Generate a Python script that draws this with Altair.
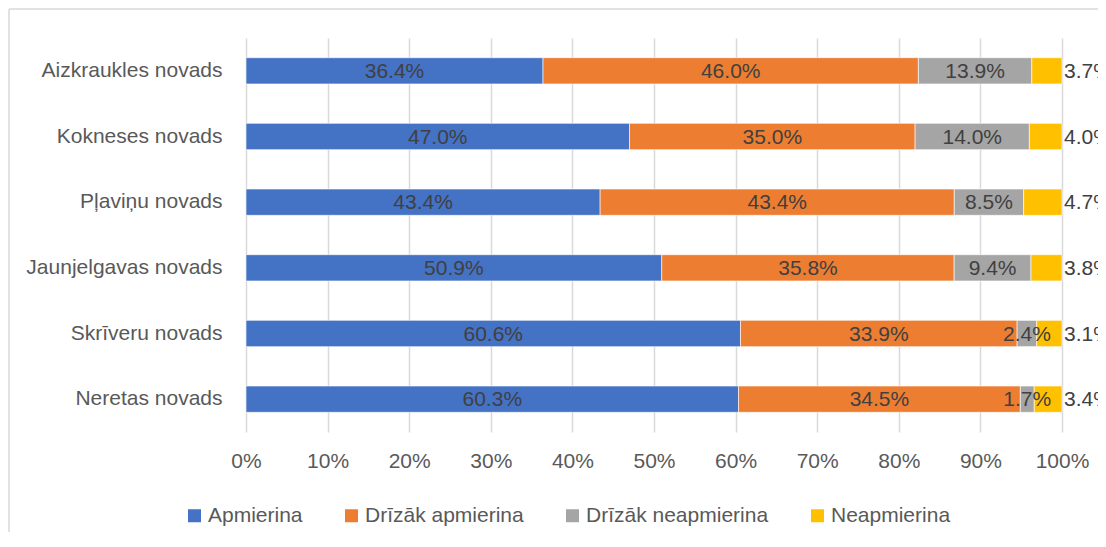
import altair as alt
import pandas as pd

categories = ["Aizkraukles novads", "Kokneses novads", "Pļaviņu novads",
              "Jaunjelgavas novads", "Skrīveru novads", "Neretas novads"]
series = ["Apmierina", "Drīzāk apmierina", "Drīzāk neapmierina", "Neapmierina"]
apmierina = [36.4, 47.0, 43.4, 50.9, 60.6, 60.3]
drizak_apmierina = [46.0, 35.0, 43.4, 35.8, 33.9, 34.5]
drizak_neapmierina = [13.9, 14.0, 8.5, 9.4, 2.4, 1.7]
neapmierina = [3.7, 4.0, 4.7, 3.8, 3.1, 3.4]
colors = ["#4472C4", "#ED7D31", "#A5A5A5", "#FFC000"]
x_ticks = [0, 0.1, 0.2, 0.3, 0.4, 0.5, 0.6, 0.7, 0.8, 0.9, 1.0]

rows = []
for si, (name, vals) in enumerate(zip(series, [apmierina, drizak_apmierina,
                                                drizak_neapmierina, neapmierina])):
    for cat, v in zip(categories, vals):
        rows.append({"cat": cat, "series": name, "order": si, "value": v})
df = pd.DataFrame(rows)

LABEL_FONT = "Liberation Sans Narrow, Liberation Sans"

base = alt.Chart(df).transform_stack(
    stack="value", groupby=["cat"], as_=["x0", "x1"],
    offset="normalize", sort=[alt.SortField("order")]
).transform_calculate(
    mid="(datum.x0 + datum.x1) / 2",
    label="format(datum.value, '.1f') + '%'"
)

y_enc = alt.Y("cat:N", sort=categories, title=None,
              scale=alt.Scale(paddingInner=0.6, paddingOuter=0.3),
              axis=alt.Axis(domain=False, ticks=False, grid=False, labelPadding=24,
                            labelFontSize=21, labelColor="#595959", labelLimit=400))

bars = base.mark_bar(stroke="white", strokeWidth=0.6).encode(
    x=alt.X("x0:Q", scale=alt.Scale(domain=[0, 1], nice=False), title=None,
            axis=alt.Axis(values=x_ticks, format=".0%", grid=True, gridColor="#d9d9d9",
                          gridWidth=1.5, domain=False, ticks=False, labelPadding=18,
                          labelFlush=False, labelOverlap=False,
                          labelFontSize=21, labelColor="#595959")),
    x2="x1:Q",
    y=y_enc,
    color=alt.Color("series:N", scale=alt.Scale(domain=series, range=colors),
                    legend=alt.Legend(title=None, orient="none", legendX=-62, legendY=467,
                                      direction="horizontal", symbolType="square",
                                      symbolSize=169, symbolStrokeWidth=0,
                                      labelFontSize=21, labelColor="#595959",
                                      labelOffset=3, columnPadding=38, labelLimit=400)),
    order=alt.Order("order:Q"),
)

text_mid = base.transform_filter("datum.order < 3").mark_text(
    font=LABEL_FONT, fontSize=21, color="#404040", baseline="middle", align="center", dy=1
).encode(x="mid:Q", y=alt.Y("cat:N", sort=categories), text="label:N")

text_end = base.transform_filter("datum.order == 3").mark_text(
    font=LABEL_FONT, fontSize=21, color="#404040", baseline="middle", align="left", dx=2, dy=1
).encode(x="x1:Q", y=alt.Y("cat:N", sort=categories), text="label:N")

frame = alt.Data(values=[{}])
border_top = alt.Chart(frame).mark_rule(color="#d9d9d9", strokeWidth=1.5, clip=False).encode(
    x=alt.value(-237), x2=alt.value(3000), y=alt.value(-29))
border_left = alt.Chart(frame).mark_rule(color="#d9d9d9", strokeWidth=1.5, clip=False).encode(
    x=alt.value(-237), y=alt.value(-29), y2=alt.value(900))

chart = alt.layer(border_top, border_left, bars, text_mid, text_end).properties(
    width=816, height=394, autosize="none",
    padding={"left": 238, "top": 30, "right": 36, "bottom": 100}
).configure(font="Liberation Sans").configure_view(stroke=None)

chart.save("out.html", embed_options={"renderer": "svg", "actions": False})
